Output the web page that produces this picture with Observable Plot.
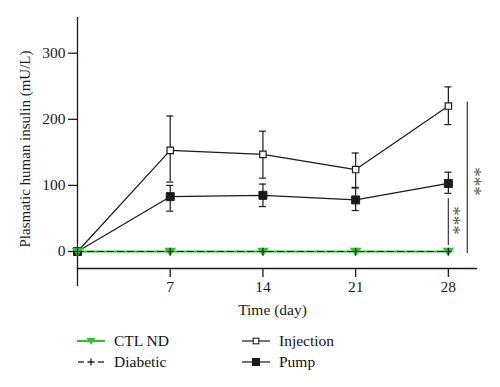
<!DOCTYPE html>
<html><head><meta charset="utf-8">
<script src="https://cdn.jsdelivr.net/npm/d3@7"></script>
<script src="https://cdn.jsdelivr.net/npm/@observablehq/plot@0.6"></script>
<style>
body{margin:0;background:#fff;font-family:"Liberation Serif",serif;}
#wrap{position:relative;width:500px;height:387px;overflow:hidden;}
#chart svg, #chart svg text{font-family:"Liberation Serif",serif !important;}
#legend{position:absolute;left:0;top:320px;width:500px;height:67px;}
.leg{position:absolute;display:flex;align-items:center;font-family:"Liberation Serif",serif;font-size:15.5px;color:#111;height:20px;}
.leg svg{margin-right:9px;}
</style></head><body><div id="wrap"><div id="chart"></div><div id="legend"></div></div>
<script>
// ---- data ----
const days = [0, 7, 14, 21, 28];
const injection   = [0, 153, 147, 124, 220];
const injectionLo = [null, 105, 111, 96, 192];
const injectionHi = [null, 205, 182, 149, 249];
const pump   = [0, 83, 85, 78, 103];
const pumpLo = [null, 61, 68, 62, 88];
const pumpHi = [null, 100, 102, 97, 120];
const ctlND    = [0, 0, 0, 0, 0];
const diabetic = [0, 0, 0, 0, 0];
const seriesNames = ["CTL ND", "Diabetic", "Injection", "Pump"];
const xTicks = [7, 14, 21, 28];
const yTicks = [0, 100, 200, 300];
const xDomain = [0, 30.2];
const yDomain = [-25.7, 354];
const yAxisBottom = -53;
// significance brackets (day, y-range in mU/L) and their labels
const bracketX  = [28, 29.43];
const bracketY1 = [9, -3];
const bracketY2 = [80, 226];
const starX = [28.35, 29.95];
const starY = [47, 106];
const starText = ["***", "***"];
const xLabel = "Time (day)";
const yLabel = "Plasmatic human insulin (mU/L)";

// ---- tables ----
const green = "#2fbf2f";
const ink = "#1a1a1a";
const rows = days.map((d, i) => ({day: d, ctl: ctlND[i], dia: diabetic[i], inj: injection[i], pump: pump[i]}));
const errs = [];
days.forEach((d, i) => {
  if (injectionLo[i] != null) errs.push({day: d, lo: injectionLo[i], hi: injectionHi[i]});
  if (pumpLo[i] != null) errs.push({day: d, lo: pumpLo[i], hi: pumpHi[i]});
});
const caps = errs.flatMap(e => [{day: e.day, y: e.lo}, {day: e.day, y: e.hi}]);
const brackets = bracketX.map((x, i) => ({x, y1: bracketY1[i], y2: bracketY2[i]}));
const stars = starX.map((x, i) => ({x, y: starY[i], t: starText[i]}));

const triDown = {draw(ctx, size) { const s = Math.sqrt(size); ctx.moveTo(-s*0.6, -s*0.42); ctx.lineTo(s*0.6, -s*0.42); ctx.lineTo(0, s*0.5); ctx.closePath(); }};

const chart = Plot.plot({
  width: 500, height: 320,
  marginLeft: 77, marginRight: 23, marginTop: 17, marginBottom: 52,
  style: {fontFamily: "'Liberation Serif', serif", fontSize: "15px", color: ink, background: "#fff"},
  x: {domain: xDomain},
  y: {domain: yDomain},
  marks: [
    // axes
    Plot.ruleX([{x: 0, y1: yAxisBottom, y2: yDomain[1]}], {x: "x", y1: "y1", y2: "y2", stroke: ink, strokeWidth: 1.3, clip: false}),
    Plot.ruleY([yDomain[0]], {stroke: ink, strokeWidth: 1.3}),
    Plot.axisY(yTicks, {tickSize: 9, tickPadding: 3, label: null, stroke: ink, strokeWidth: 1.3, fontSize: 15.5}),
    Plot.axisX(xTicks, {tickSize: 9, tickPadding: 3, label: null, stroke: ink, strokeWidth: 1.3, fontSize: 15.5}),
    Plot.text([xLabel], {frameAnchor: "bottom", textAnchor: "middle", dx: -5, dy: 42, fontSize: 15.5, lineAnchor: "middle"}),
    Plot.text([yLabel], {frameAnchor: "left", textAnchor: "middle", dx: -52, dy: 6, rotate: -90, fontSize: 15, lineAnchor: "middle"}),
    // error bars
    Plot.ruleX(errs, {x: "day", y1: "lo", y2: "hi", stroke: ink, strokeWidth: 1.2}),
    Plot.ruleY(caps, {x1: "day", x2: "day", y: "y", stroke: ink, strokeWidth: 1.2, insetLeft: -3.5, insetRight: -3.5}),
    // lines
    Plot.line(rows, {x: "day", y: "inj", stroke: ink, strokeWidth: 1.2}),
    Plot.line(rows, {x: "day", y: "pump", stroke: ink, strokeWidth: 1.2}),
    Plot.line(rows, {x: "day", y: "ctl", stroke: green, strokeWidth: 2}),
    Plot.line(rows, {x: "day", y: "dia", stroke: ink, strokeWidth: 1.2, strokeDasharray: "6,4"}),
    // markers
    Plot.dot(rows, {x: "day", y: "inj", symbol: "square", r: 3.6, fill: "#fff", stroke: ink, strokeWidth: 1.2}),
    Plot.dot(rows, {x: "day", y: "pump", symbol: "square", r: 4.5, fill: ink, stroke: ink, strokeWidth: 1}),
    Plot.dot(rows, {x: "day", y: "ctl", symbol: triDown, r: 4.2, fill: green, stroke: green}),
    Plot.dot(rows, {x: "day", y: "dia", symbol: "plus", r: 2.6, stroke: ink, strokeWidth: 1.2}),
    // significance
    Plot.ruleX(brackets, {x: "x", y1: "y1", y2: "y2", stroke: "#444", strokeWidth: 1.3}),
    Plot.text(stars, {x: "x", y: "y", text: "t", rotate: 90, fontSize: 19, fill: "#555"})
  ]
});
document.getElementById("chart").appendChild(chart);

// ---- legend ----
function icon(kind) {
  const W = 28, H = 14, cy = 7;
  let s = `<svg width="${W}" height="${H}" viewBox="0 0 ${W} ${H}">`;
  if (kind === 0) {
    s += `<line x1="0" x2="${W}" y1="${cy}" y2="${cy}" stroke="${green}" stroke-width="2"/>`;
    s += `<path d="M${W/2-4.5},${cy-3} L${W/2+4.5},${cy-3} L${W/2},${cy+4} Z" fill="${green}"/>`;
  } else if (kind === 1) {
    s += `<line x1="1" x2="7" y1="${cy}" y2="${cy}" stroke="${ink}" stroke-width="1.3"/>`;
    s += `<line x1="${W-7}" x2="${W-1}" y1="${cy}" y2="${cy}" stroke="${ink}" stroke-width="1.3"/>`;
    s += `<path d="M${W/2-3.5},${cy} H${W/2+3.5} M${W/2},${cy-3.5} V${cy+3.5}" stroke="${ink}" stroke-width="1.3"/>`;
  } else if (kind === 2) {
    s += `<line x1="0" x2="${W}" y1="${cy}" y2="${cy}" stroke="${ink}" stroke-width="1.2"/>`;
    s += `<rect x="${W/2-2.8}" y="${cy-2.8}" width="5.6" height="5.6" fill="#fff" stroke="${ink}" stroke-width="1.1"/>`;
  } else {
    s += `<line x1="0" x2="${W}" y1="${cy}" y2="${cy}" stroke="${ink}" stroke-width="1.2"/>`;
    s += `<rect x="${W/2-4}" y="${cy-4}" width="8" height="8" fill="${ink}"/>`;
  }
  return s + `</svg>`;
}
const legPos = [[77, 11], [77, 32], [242, 11], [242, 32]];
const leg = document.getElementById("legend");
seriesNames.forEach((name, i) => {
  const el = document.createElement("div");
  el.className = "leg";
  el.style.left = legPos[i][0] + "px";
  el.style.top = legPos[i][1] + "px";
  el.innerHTML = icon(i) + `<span>${name}</span>`;
  leg.appendChild(el);
});
</script></body></html>
